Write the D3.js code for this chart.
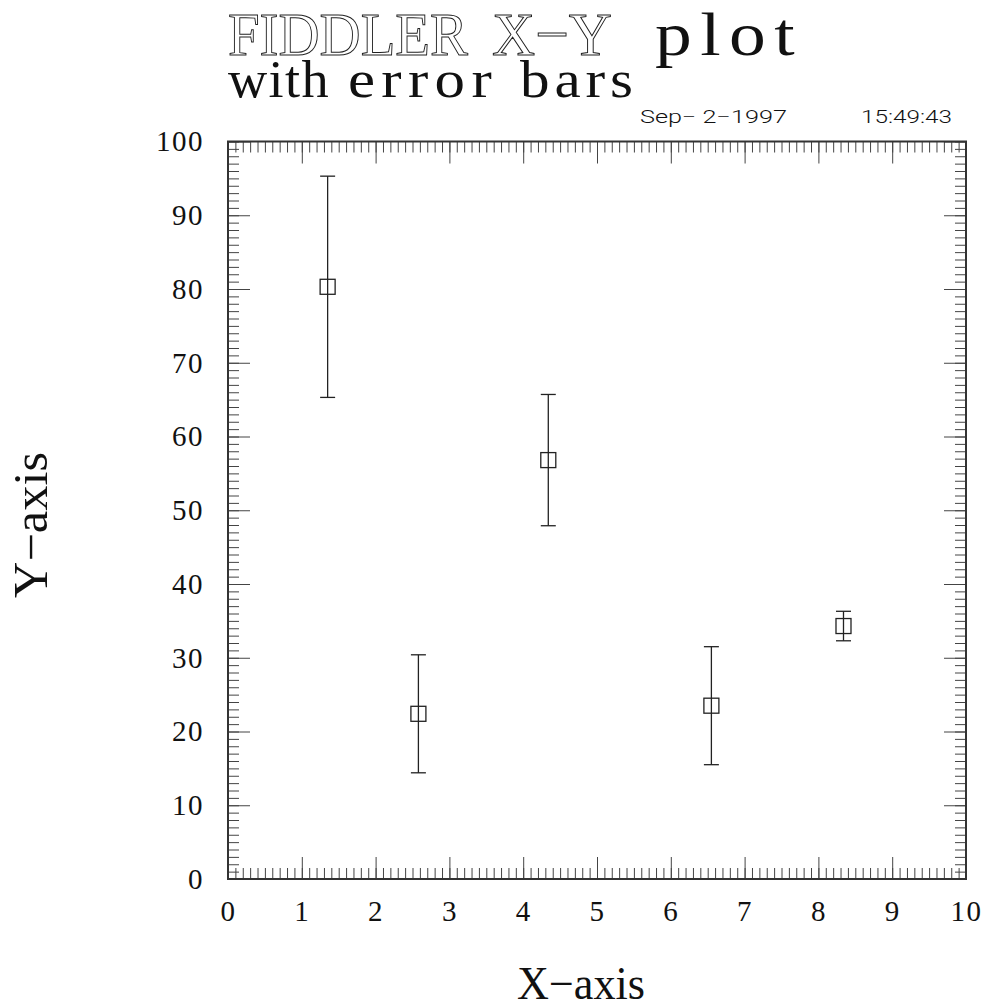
<!DOCTYPE html>
<html>
<head>
<meta charset="utf-8">
<script src="https://cdn.jsdelivr.net/npm/d3@7"></script>
<style>
  html, body { margin: 0; padding: 0; background: #fff; }
  svg { display: block; }
  .serif { font-family: "Liberation Serif", "DejaVu Serif", serif; fill: #111; }
  .hollow { fill: #fff; stroke: #222; stroke-width: 1px; }
  .stamp { font-family: Roboto, "Liberation Sans", "DejaVu Sans", sans-serif; font-weight: 300; fill: #111; }
</style>
</head>
<body>
<script>
// Measurements and their symmetric errors
const xValues = [1.35, 2.58, 4.34, 6.55, 8.34];
const yValues = [80.3, 22.4, 56.8, 23.5, 34.3];
const yErrors = [15.0, 8.0, 8.9, 8.0, 2.0];

// Axis ranges and labelled ticks
const xDomain = [0, 10];
const yDomain = [0, 100];
const xTickLabels = [0, 1, 2, 3, 4, 5, 6, 7, 8, 9, 10];
const yTickLabels = [0, 10, 20, 30, 40, 50, 60, 70, 80, 90, 100];

// Texts (words of the two title lines are laid out individually)
const titleWords = ["FIDDLER", "X\u2212Y", "plot"];
const subtitleWords = ["with", "error", "bars"];
const dateText = "Sep\u2212  2\u22121997";
const timeText = "15:49:43";
const xAxisTitle = "X\u2212axis";
const yAxisTitle = "Y\u2212axis";

const W = 986, H = 1008;
const frame = { left: 228, right: 966, top: 141.5, bottom: 879 };

const svg = d3.select("body").append("svg")
  .attr("width", W).attr("height", H);

const x = d3.scaleLinear().domain(xDomain).range([frame.left, frame.right]);
const y = d3.scaleLinear().domain(yDomain).range([frame.bottom, frame.top]);

const xMinor = d3.range(0, 101).map(i => i / 10);
const yMinor = d3.range(0, 101);

const MAJOR = 22, MINOR = 11;

function styleAxis(g) {
  g.select(".domain").remove();
  g.selectAll(".tick line").attr("stroke", "#444").attr("stroke-width", 1);
}
function styleLabels(g) {
  g.selectAll("text").attr("class", "serif").attr("font-size", 29)
    .attr("fill", "#111").attr("letter-spacing", 1.5);
}

// Bottom axis: minor + major ticks pointing inward, with labels
svg.append("g").attr("transform", `translate(0,${frame.bottom})`)
  .call(d3.axisBottom(x).tickValues(xMinor).tickSize(-MINOR).tickFormat(""))
  .call(styleAxis);
svg.append("g").attr("transform", `translate(0,${frame.bottom})`)
  .call(d3.axisBottom(x).tickValues(xTickLabels).tickSize(-MAJOR).tickPadding(21).tickFormat(d3.format("d")))
  .call(styleAxis).call(styleLabels);

// Top axis: mirrored ticks
svg.append("g").attr("transform", `translate(0,${frame.top})`)
  .call(d3.axisTop(x).tickValues(xMinor).tickSize(-MINOR).tickFormat(""))
  .call(styleAxis);
svg.append("g").attr("transform", `translate(0,${frame.top})`)
  .call(d3.axisTop(x).tickValues(xTickLabels).tickSize(-MAJOR).tickFormat(""))
  .call(styleAxis);

// Left axis with labels
svg.append("g").attr("transform", `translate(${frame.left},0)`)
  .call(d3.axisLeft(y).tickValues(yMinor).tickSize(-MINOR).tickFormat(""))
  .call(styleAxis);
svg.append("g").attr("transform", `translate(${frame.left},0)`)
  .call(d3.axisLeft(y).tickValues(yTickLabels).tickSize(-MAJOR).tickPadding(24).tickFormat(d3.format("d")))
  .call(styleAxis).call(styleLabels);

// Right axis: mirrored ticks
svg.append("g").attr("transform", `translate(${frame.right},0)`)
  .call(d3.axisRight(y).tickValues(yMinor).tickSize(-MINOR).tickFormat(""))
  .call(styleAxis);
svg.append("g").attr("transform", `translate(${frame.right},0)`)
  .call(d3.axisRight(y).tickValues(yTickLabels).tickSize(-MAJOR).tickFormat(""))
  .call(styleAxis);

// Frame
svg.append("rect")
  .attr("x", frame.left).attr("y", frame.top)
  .attr("width", frame.right - frame.left).attr("height", frame.bottom - frame.top)
  .attr("fill", "none").attr("stroke", "#333").attr("stroke-width", 2);

// Error bars and square markers
const points = xValues.map((v, i) => ({ x: v, y: yValues[i], e: yErrors[i] }));
const CAP = 7.5, BOX = 7.5;
const pg = svg.append("g").attr("stroke", "#222").attr("stroke-width", 1.3).attr("fill", "none");
const pt = pg.selectAll("g").data(points).join("g");
pt.append("line")
  .attr("x1", d => x(d.x)).attr("x2", d => x(d.x))
  .attr("y1", d => y(d.y + d.e)).attr("y2", d => y(d.y - d.e));
pt.append("line")
  .attr("x1", d => x(d.x) - CAP).attr("x2", d => x(d.x) + CAP)
  .attr("y1", d => y(d.y + d.e)).attr("y2", d => y(d.y + d.e));
pt.append("line")
  .attr("x1", d => x(d.x) - CAP).attr("x2", d => x(d.x) + CAP)
  .attr("y1", d => y(d.y - d.e)).attr("y2", d => y(d.y - d.e));
pt.append("rect")
  .attr("x", d => x(d.x) - BOX).attr("y", d => y(d.y) - BOX)
  .attr("width", 2 * BOX).attr("height", 2 * BOX);

// Title lines: each word is fitted into its own slot. Words narrower than
// their slot are opened up partly with letter spacing, so the glyphs are
// not widened too much.
function wordLine(words, starts, widths, styles, baseline, size) {
  const t = svg.append("text").attr("class", "serif")
    .attr("y", baseline).attr("font-size", size);
  words.forEach((w, i) => {
    const s = t.append("tspan").attr("class", styles[i]).attr("x", starts[i]).text(w);
    const natural = s.node().getComputedTextLength();
    if (natural < widths[i]) {
      s.attr("letter-spacing", 0.55 * (widths[i] - natural) / w.length);
    }
    s.attr("textLength", widths[i]).attr("lengthAdjust", "spacingAndGlyphs");
  });
}
wordLine(titleWords, [228, 492, 655], [240, 120, 148], ["hollow", "hollow", ""], 55, 62);
wordLine(subtitleWords, [228, 348, 520], [102, 150, 118], ["", "", ""], 97, 52);

// Date / time stamp
svg.append("text").attr("class", "stamp")
  .attr("x", 640).attr("y", 123).attr("font-size", 19)
  .attr("textLength", 147).attr("lengthAdjust", "spacingAndGlyphs")
  .text(dateText);
svg.append("text").attr("class", "stamp")
  .attr("x", 861).attr("y", 123).attr("font-size", 19)
  .attr("textLength", 91).attr("lengthAdjust", "spacingAndGlyphs")
  .text(timeText);

// Axis titles
svg.append("text").attr("class", "serif")
  .attr("x", 581).attr("y", 999).attr("text-anchor", "middle").attr("font-size", 46)
  .attr("textLength", 128).attr("lengthAdjust", "spacingAndGlyphs")
  .text(xAxisTitle);
svg.append("text").attr("class", "serif")
  .attr("transform", "translate(47,525) rotate(-90)")
  .attr("text-anchor", "middle").attr("font-size", 48)
  .attr("textLength", 146).attr("lengthAdjust", "spacingAndGlyphs")
  .text(yAxisTitle);
</script>
</body>
</html>
